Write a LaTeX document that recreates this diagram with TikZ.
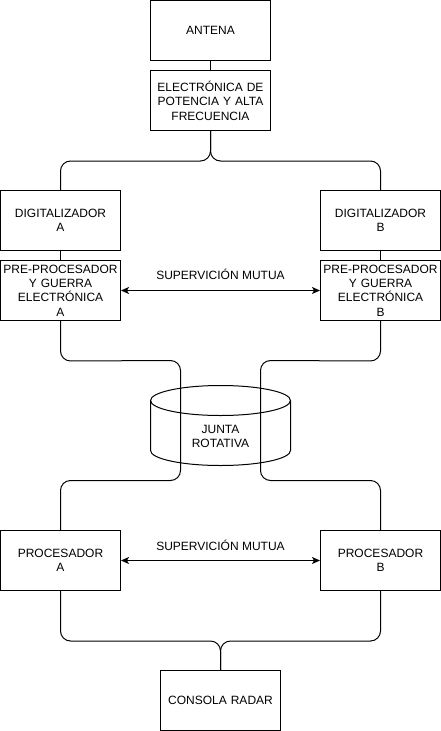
\documentclass[tikz,border=0pt]{standalone}
\usepackage{fontspec}
\setmainfont{Liberation Sans}
\usetikzlibrary{arrows.meta}
\begin{document}
\begin{tikzpicture}[x=1pt,y=-1pt,
  box/.style={draw,line width=1pt,minimum width=120pt,minimum height=60pt,inner sep=0pt,align=center,text width=120pt,font=\fontsize{12}{14.4}\selectfont},
  conn/.style={line width=1pt,rounded corners=10pt},
  biarrow/.style={line width=1pt,{Stealth[length=8pt,width=7pt,inset=2pt]}-{Stealth[length=8pt,width=7pt,inset=2pt]}},
  lbl/.style={font=\fontsize{12}{14.4}\selectfont,inner sep=0pt}]
\useasboundingbox (-0.5,-0.5) rectangle (440.5,730.5);
\node[box] (ant) at (210,30) {ANTENA};
\node[box] (elec) at (210,100) {ELECTRÓNICA DE\\POTENCIA Y ALTA\\FRECUENCIA};
\node[box] (digA) at (60,220) {DIGITALIZADOR\\A};
\node[box] (digB) at (380,220) {DIGITALIZADOR\\B};
\node[box] (preA) at (60,290) {PRE-PROCESADOR\\Y GUERRA\\ELECTRÓNICA\\A};
\node[box] (preB) at (380,290) {PRE-PROCESADOR\\Y GUERRA\\ELECTRÓNICA\\B};
\node[box] (procA) at (60,560) {PROCESADOR\\A};
\node[box] (procB) at (380,560) {PROCESADOR\\B};
\node[box] (cons) at (220,700) {CONSOLA RADAR};
% cylinder
\draw[line width=1pt] (220,400) ellipse [x radius=70pt, y radius=15pt];
\draw[line width=1pt] (150,400) -- (150,450) arc[start angle=180,end angle=360,x radius=70pt,y radius=15pt] -- (290,400);
\node[lbl,align=center] (junta) at (220,436) {JUNTA\\ROTATIVA};
% connectors
\draw[line width=1pt] (ant) -- (elec);
\draw[conn] (elec.south) -- ++(0,30) -| (digA.north);
\draw[conn] (elec.south) -- ++(0,30) -| (digB.north);
\draw[line width=1pt] (digA) -- (preA);
\draw[line width=1pt] (digB) -- (preB);
\draw[conn] (preA.south) -- ++(0,40) -- (180,360) -- (180,480) -| (procA.north);
\draw[conn] (preB.south) -- ++(0,40) -- (260,360) -- (260,480) -| (procB.north);
\draw[conn] (procA.south) -- ++(0,50) -| (cons.north);
\draw[conn] (procB.south) -- ++(0,50) -| (cons.north);
\draw[biarrow] (preA.east) -- (preB.west);
\draw[biarrow] (procA.east) -- (procB.west);
\node[lbl] (sup1) at (220,274) {SUPERVICIÓN MUTUA};
\node[lbl] (sup2) at (220,545) {SUPERVICIÓN MUTUA};
\end{tikzpicture}
\end{document}
